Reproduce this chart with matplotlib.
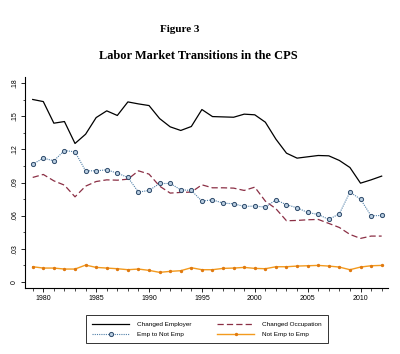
import numpy as np
import matplotlib
matplotlib.use("Agg")
import matplotlib.pyplot as plt
from matplotlib.ticker import MultipleLocator, FuncFormatter

plt.rcParams['font.family'] = ['Liberation Sans', 'DejaVu Sans']

years = list(range(1979, 2013))

changed_employer = [0.1653, 0.1634, 0.1438, 0.1453, 0.1254, 0.1338, 0.1489, 0.1550,
                    0.1508, 0.1631, 0.1613, 0.1598, 0.1480, 0.1405, 0.1372, 0.1408,
                    0.1562, 0.1498, 0.1495, 0.1492, 0.1520, 0.1514, 0.1447, 0.1293,
                    0.1166, 0.1121, 0.1133, 0.1145, 0.1142, 0.1100, 0.1036, 0.0894,
                    0.0924, 0.0958]
changed_occupation = [0.0946, 0.0973, 0.0915, 0.0876, 0.0770, 0.0867, 0.0909, 0.0924,
                      0.0921, 0.0930, 0.1006, 0.0976, 0.0867, 0.0804, 0.0810, 0.0813,
                      0.0879, 0.0852, 0.0852, 0.0849, 0.0828, 0.0858, 0.0731, 0.0662,
                      0.0553, 0.0556, 0.0562, 0.0565, 0.0529, 0.0492, 0.0429, 0.0393,
                      0.0414, 0.0414]
emp_to_notemp = [0.1066, 0.1121, 0.1097, 0.1190, 0.1178, 0.1006, 0.1006, 0.1015,
                 0.0985, 0.0946, 0.0813, 0.0828, 0.0891, 0.0891, 0.0834, 0.0828,
                 0.0731, 0.0743, 0.0713, 0.0707, 0.0683, 0.0686, 0.0677, 0.0743,
                 0.0698, 0.0671, 0.0628, 0.0610, 0.0565, 0.0616, 0.0813, 0.0749,
                 0.0598, 0.0601]
notemp_to_emp = [0.0136, 0.0124, 0.0124, 0.0115, 0.0115, 0.0151, 0.0130, 0.0124,
                 0.0118, 0.0109, 0.0115, 0.0103, 0.0085, 0.0094, 0.0100, 0.0127,
                 0.0109, 0.0109, 0.0121, 0.0124, 0.0130, 0.0121, 0.0118, 0.0136,
                 0.0136, 0.0142, 0.0145, 0.0148, 0.0142, 0.0133, 0.0109, 0.0133,
                 0.0145, 0.0148]

fig = plt.figure(figsize=(4.0, 3.54), dpi=100)
ax = fig.add_axes([0.0625, 0.1864, 0.9075, 0.5961])

l1, = ax.plot(years, changed_employer, color="black", lw=0.9, label="Changed Employer")
l2, = ax.plot(years, changed_occupation, color="#8b2f45", lw=0.9, dashes=(5, 2.5),
              label="Changed Occupation")
l3, = ax.plot(years, emp_to_notemp, color="#4f7fa8", lw=0.8, ls=(0, (1, 1)),
              marker="o", ms=3, mfc="#b8cde0", mec="#2e4a6a", mew=0.7,
              label="Emp to Not Emp")
l4, = ax.plot(years, notemp_to_emp, color="#f39a1e", lw=1.0,
              marker="o", ms=1.4, mfc="#e07a10", mec="#e07a10",
              label="Not Emp to Emp")

ax.set_xlim(1978.27, 2012.6)
ax.set_ylim(-0.0057, 0.1857)

ax.spines["top"].set_visible(False)
ax.spines["right"].set_visible(False)
ax.spines["left"].set_linewidth(0.8)
ax.spines["bottom"].set_linewidth(0.8)

ax.set_xticks(range(1980, 2011, 5))
ax.xaxis.set_minor_locator(MultipleLocator(1))
ax.yaxis.set_major_locator(MultipleLocator(0.03))
ax.yaxis.set_minor_locator(MultipleLocator(0.015))
ax.yaxis.set_major_formatter(FuncFormatter(
    lambda v, p: "0" if abs(v) < 1e-9 else ("%.2f" % v).lstrip("0")))

ax.tick_params(axis="both", which="major", length=3, width=0.6, labelsize=5, pad=2)
ax.tick_params(axis="both", which="minor", length=1.8, width=0.5)
for lab in ax.get_yticklabels():
    lab.set_rotation(90)
    lab.set_va("center")

fig.text(180 / 400, 1 - 30 / 354, "Figure 3", ha="center", va="center",
         family="Liberation Serif", weight="bold", fontsize=8)
fig.text(198 / 400, 1 - 56 / 354, "Labor Market Transitions in the CPS", ha="center",
         va="center", family="Liberation Serif", weight="bold", fontsize=8.9)

leg = fig.legend([l1, l3, l2, l4],
                 [l.get_label() for l in (l1, l3, l2, l4)],
                 loc="center", bbox_to_anchor=(207 / 400, 1 - 329.4 / 354),
                 ncol=2, fontsize=4.6, frameon=True, fancybox=False,
                 edgecolor="black", handlelength=5.8, handletextpad=1.2,
                 columnspacing=4.0, borderpad=0.95, labelspacing=0.75)
leg.get_frame().set_linewidth(0.7)

fig.savefig("out.png", dpi=100)
